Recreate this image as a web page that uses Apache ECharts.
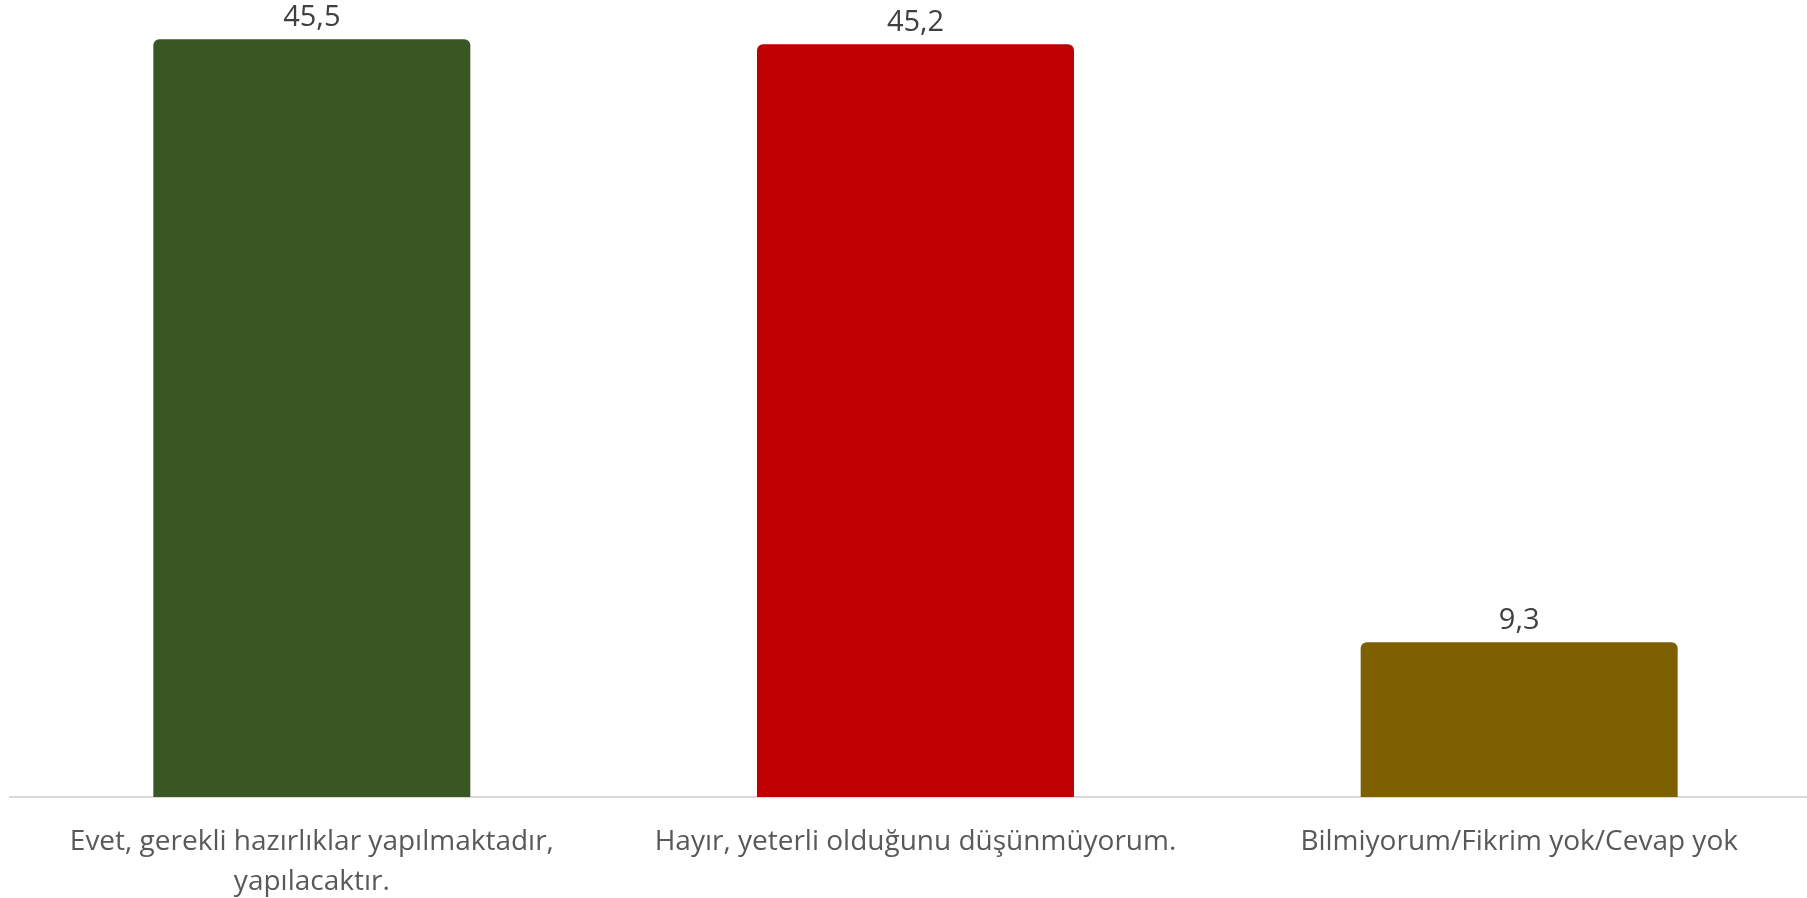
<!DOCTYPE html>
<html>
<head>
<meta charset="utf-8">
<script src="https://cdn.jsdelivr.net/npm/echarts@6/dist/echarts.min.js"></script>
<style>
    html, body { margin: 0; padding: 0; background: #fff; }
    #chart { width: 1807px; height: 898px; }
</style>
</head>
<body>
<div id="chart"></div>
<script>
    // kategoriler ve yüzdeler
    var categories = [
        'Evet, gerekli hazırlıklar yapılmaktadır,\nyapılacaktır.',
        'Hayır, yeterli olduğunu düşünmüyorum.',
        'Bilmiyorum/Fikrim yok/Cevap yok'
    ];
    var values = [45.5, 45.2, 9.3];
    var barColors = ['#385723', '#c00000', '#7f6000'];

    var chart = echarts.init(document.getElementById('chart'));
    chart.setOption({
        animation: false,
        grid: {
            left: 10,
            right: -14,
            top: 31,
            bottom: 101,
            outerBoundsMode: 'none'
        },
        xAxis: {
            type: 'category',
            data: categories,
            axisLine: { lineStyle: { color: '#d9d9d9', width: 2 } },
            axisTick: { show: false },
            axisLabel: {
                interval: 0,
                margin: 25,
                color: '#595959',
                fontFamily: 'Open Sans',
                fontSize: 28,
                lineHeight: 40
            }
        },
        yAxis: {
            type: 'value',
            min: 0,
            max: 46,
            show: false,
            splitLine: { show: false }
        },
        series: [{
            type: 'bar',
            barWidth: 317,
            data: values.map(function (v, i) {
                return { value: v, itemStyle: { color: barColors[i] } };
            }),
            itemStyle: { borderRadius: [6, 6, 0, 0] },
            label: {
                show: true,
                position: 'top',
                distance: 7,
                color: '#404040',
                fontFamily: 'Open Sans',
                fontSize: 29,
                formatter: function (p) {
                    return String(p.value).replace('.', ',');
                }
            }
        }]
    });
</script>
</body>
</html>
